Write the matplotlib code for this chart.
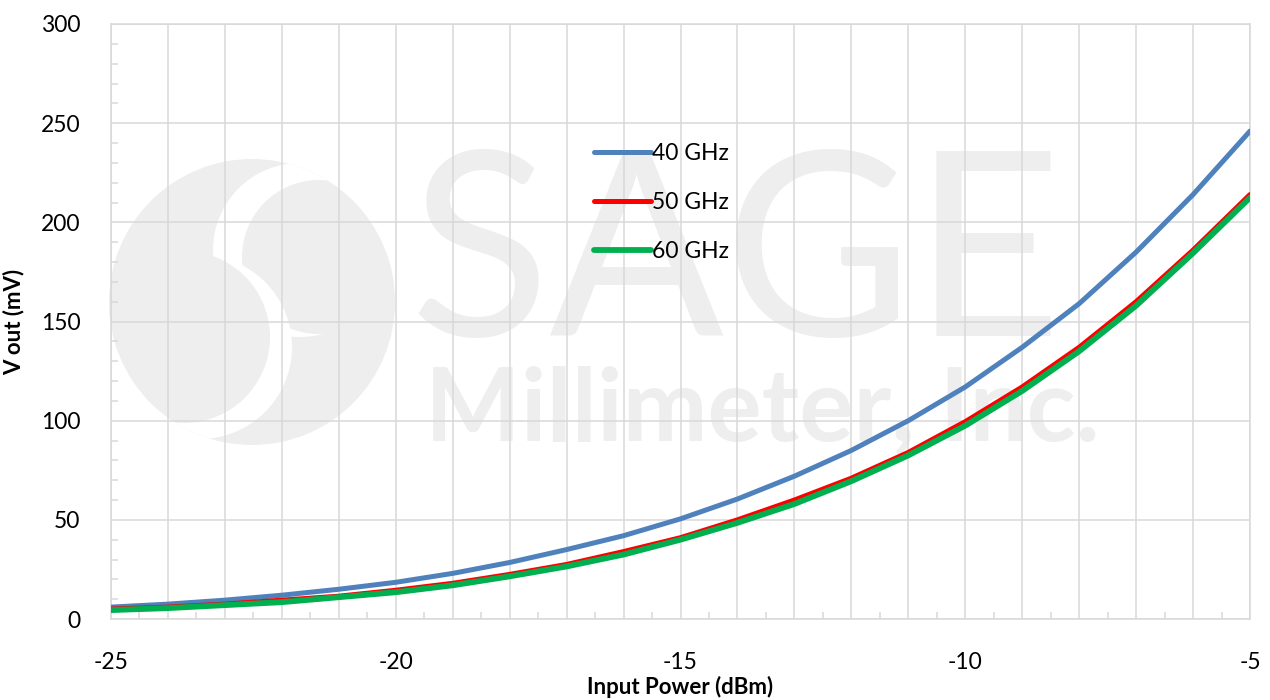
import matplotlib
matplotlib.use("Agg")
import matplotlib.pyplot as plt
import numpy as np
from matplotlib.patches import Circle

plt.rcParams['font.family'] = ['Lato', 'DejaVu Sans']
plt.rcParams['axes.unicode_minus'] = False

# data
power_dbm = [-25, -24, -23, -22, -21, -20, -19, -18, -17, -16, -15,
             -14, -13, -12, -11, -10, -9, -8, -7, -6, -5]
v_40ghz = [6, 7.5, 9.5, 12, 15, 18.5, 23, 28.5, 35, 42, 50.5,
           60.5, 72, 85, 100, 117, 137, 159, 185, 214, 246]
v_50ghz = [5, 6, 7.5, 9.5, 11.5, 14.5, 18, 22.5, 27.5, 34, 41,
           50, 60, 71, 84, 99.5, 117, 137, 160, 186, 214]
v_60ghz = [4.5, 5.5, 7, 8.5, 11, 13.5, 17, 21.5, 26.5, 32.5, 40,
           48.5, 58, 69.5, 82.5, 97.5, 115, 135, 158, 184.5, 212.5]
labels = ['40 GHz', '50 GHz', '60 GHz']
colors = ['#4f81bd', '#ff0000', '#00b050']

W, H = 1270, 700
fig = plt.figure(figsize=(12.7, 7), dpi=100)

# ---- watermark layer (pixel coords)
bg = fig.add_axes([0, 0, 1, 1], zorder=0)
bg.set_xlim(0, W)
bg.set_ylim(H, 0)
bg.axis('off')
wm = '#eeeeee'
big = Circle((252, 302), 143, color=wm, lw=0)
bg.add_patch(big)
for (cx, cy, r, c) in [(300, 250, 87, 'white'), (319, 257, 77, wm),
                       (200, 347, 92, 'white'), (184, 337, 86, wm)]:
    p = Circle((cx, cy), r, color=c, lw=0)
    bg.add_patch(p)
    p.set_clip_path(big)
bg.text(410, 336, 'SAGE', fontsize=186, fontweight='normal', color=wm,
        ha='left', va='baseline')
bg.text(425, 440, 'Millimeter, Inc.', fontsize=73, fontweight='bold', color=wm,
        ha='left', va='baseline')

# ---- chart
ax = fig.add_axes([111 / W, 81 / H, 1139 / W, 595 / H], zorder=1)
ax.patch.set_alpha(0)

grid_c = '#d9d9d9'
ax.vlines(np.arange(-25, -4), 0, 300, color=grid_c, lw=1.1, zorder=1)
ax.hlines(np.arange(0, 301, 50), -25, -5, color=grid_c, lw=1.1, zorder=1)

series = [v_40ghz, v_50ghz, v_60ghz]
widths = [3.6, 3.6, 4.2]
for vals, lab, col, lw in zip(series, labels, colors, widths):
    ax.plot(power_dbm, vals, color=col, lw=lw, label=lab,
            solid_capstyle='round', zorder=3)

ax.set_xlim(-25, -5)
ax.set_ylim(0, 300)
ax.set_xticks(np.arange(-25, -4, 5))
ax.set_yticks(np.arange(0, 301, 50))
ax.set_xticks(np.arange(-24.5, -5, 1), minor=True)
ax.set_yticks(np.arange(0, 301, 10), minor=True)
ax.tick_params(which='major', length=0, labelsize=16.5)
ax.tick_params(axis='x', which='major', pad=24)
ax.tick_params(axis='y', which='major', pad=22)
ax.tick_params(which='minor', direction='in', length=5, width=1.1, color=grid_c)
ax.tick_params(axis='x', which='minor', top=False)
ax.tick_params(axis='y', which='minor', right=False)
for s in ax.spines.values():
    s.set_color(grid_c)
    s.set_linewidth(1.1)

ax.set_xlabel('Input Power (dBm)', fontsize=16, fontweight='bold', labelpad=2)
ax.set_ylabel('V out (mV)', fontsize=16, fontweight='bold', labelpad=12)

leg = ax.legend(loc='upper left', bbox_to_anchor=(0.406, 0.835), frameon=False,
                fontsize=16.5, handlelength=2.5, handletextpad=0.05,
                labelspacing=1.22)

fig.savefig('out.png', dpi=100)
